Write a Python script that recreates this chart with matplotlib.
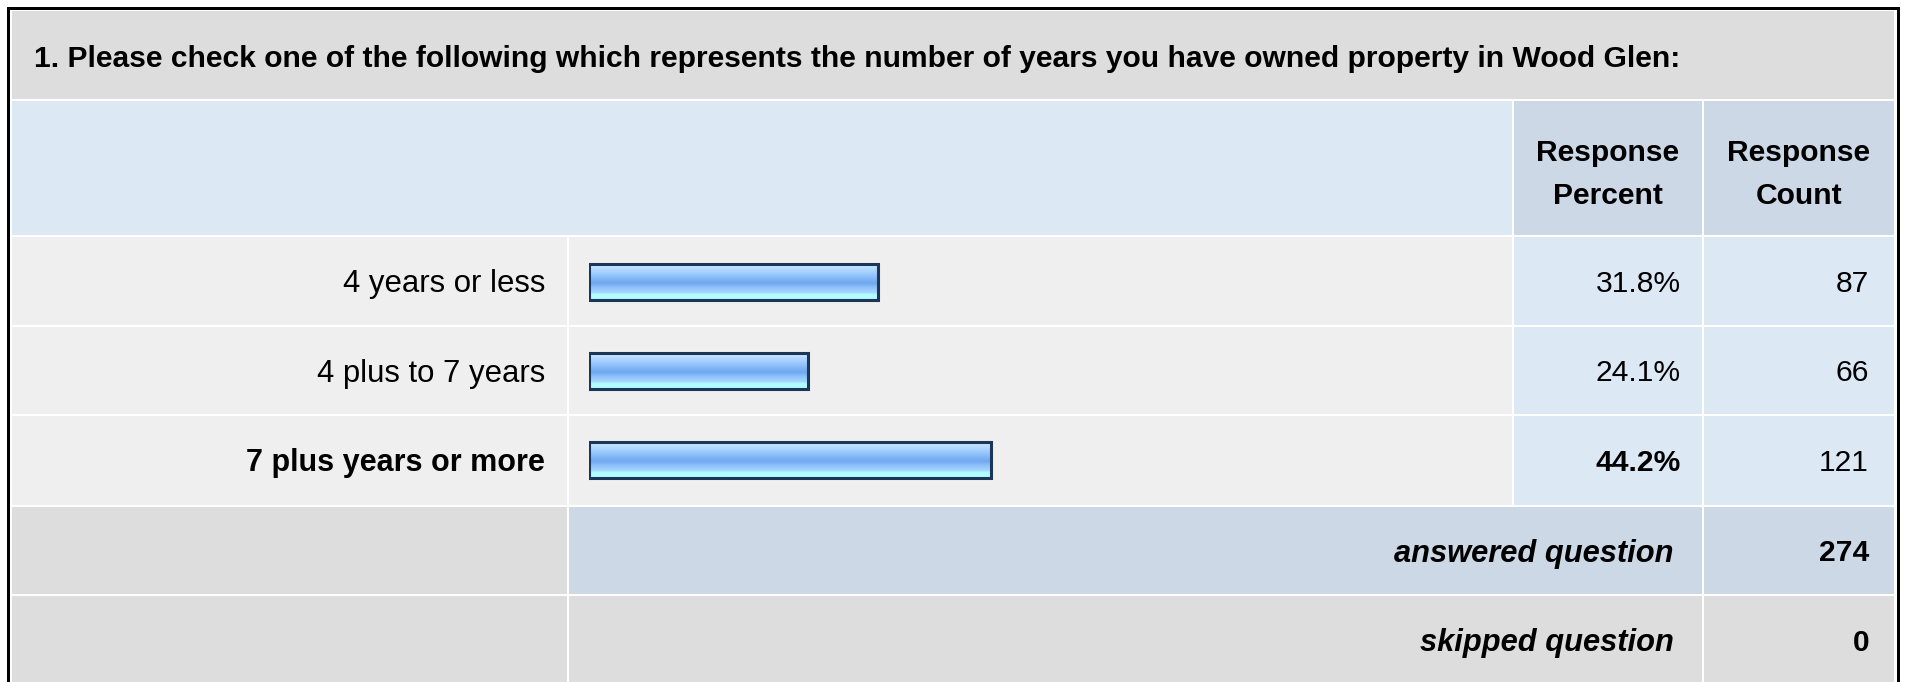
import matplotlib
matplotlib.use("Agg")
import matplotlib.pyplot as plt
import numpy as np
from matplotlib.patches import Rectangle
from matplotlib.colors import LinearSegmentedColormap

# ---------------- data ----------------
title = ("1. Please check one of the following which represents the number of "
         "years you have owned property in Wood Glen:")
categories = ["4 years or less", "4 plus to 7 years", "7 plus years or more"]
percents = [31.8, 24.1, 44.2]
counts = [87, 66, 121]
bold_rows = [False, False, True]
answered = 274
skipped = 0

# ---------------- layout (pixels) ----------------
W, H = 1909, 682
DPI = 100
FS = 21.6
FS_LAB = 22.4
plt.rcParams['font.family'] = ['Liberation Sans', 'DejaVu Sans']

fig = plt.figure(figsize=(W / DPI, H / DPI), dpi=DPI)
fig.patch.set_facecolor('white')
ax = fig.add_axes([0, 0, 1, 1])
ax.set_xlim(0, W)
ax.set_ylim(H, 0)
ax.axis('off')

GREY = '#dddddd'
DATA = '#efefef'
LBLUE = '#dde8f5'
HBLUE = '#ccd8e6'


def cell(x0, x1, y0, y1, color):
    ax.add_patch(Rectangle((x0, y0), x1 - x0, y1 - y0, facecolor=color,
                           edgecolor='none', zorder=1))


# column edges
c_lab = (12, 567)
c_bar = (569, 1512)
c_pct = (1514, 1702)
c_cnt = (1704, 1894)
# row edges
r_title = (11, 99)
r_head = (101, 235)
r_data = [(237, 325), (327, 414), (416, 505)]
r_ans = (507, 594)
r_skip = (596, 682)

# outer black frame
ax.add_patch(Rectangle((7, 7), 1899.5 - 7, 2.6, facecolor='black', edgecolor='none', zorder=3))
ax.add_patch(Rectangle((7, 7), 2.6, H, facecolor='black', edgecolor='none', zorder=3))
ax.add_patch(Rectangle((1896.9, 7), 2.6, H, facecolor='black', edgecolor='none', zorder=3))

# title row
cell(c_lab[0], c_cnt[1], *r_title, GREY)
# header row
cell(c_lab[0], c_bar[1], *r_head, LBLUE)
cell(*c_pct, *r_head, HBLUE)
cell(*c_cnt, *r_head, HBLUE)
# data rows
for (y0, y1) in r_data:
    cell(*c_lab, y0, y1, DATA)
    cell(*c_bar, y0, y1, DATA)
    cell(*c_pct, y0, y1, LBLUE)
    cell(*c_cnt, y0, y1, LBLUE)
# answered row
cell(*c_lab, *r_ans, GREY)
cell(c_bar[0], c_pct[1], *r_ans, HBLUE)
cell(*c_cnt, *r_ans, HBLUE)
# skipped row
cell(*c_lab, *r_skip, GREY)
cell(c_bar[0], c_pct[1], *r_skip, GREY)
cell(*c_cnt, *r_skip, GREY)

TXT = '#000000'


def put(x, yc, s, ha='right', weight='normal', style='normal', size=FS):
    ax.text(x, yc + 0.36 * size * DPI / 72.0, s, ha=ha, va='baseline',
            fontsize=size, fontweight=weight, fontstyle=style, color=TXT, zorder=5)


# title
put(34, 56, title, ha='left', weight='bold', size=FS)
# header
xp = (c_pct[0] + c_pct[1]) / 2
xc = (c_cnt[0] + c_cnt[1]) / 2
put(xp, 150, "Response", ha='center', weight='bold')
put(xp, 193, "Percent", ha='center', weight='bold')
put(xc, 150, "Response", ha='center', weight='bold')
put(xc, 193, "Count", ha='center', weight='bold')

# data rows
for i, (cat, p, n, b) in enumerate(zip(categories, percents, counts, bold_rows)):
    yc = (r_data[i][0] + r_data[i][1]) / 2
    w = 'bold' if b else 'normal'
    put(545, yc, cat, weight=w, size=FS_LAB if not b else 22.0)
    put(1681, yc, f"{p:.1f}%", weight=w)
    put(1869, yc, f"{n}")

ya = (r_ans[0] + r_ans[1]) / 2
ys = (r_skip[0] + r_skip[1]) / 2 + 1
put(1674, ya, "answered question", weight='bold', style='italic', size=22.2)
put(1869, ya, f"{answered}", weight='bold')
put(1674, ys, "skipped question", weight='bold', style='italic', size=22.2)
put(1869, ys, f"{skipped}", weight='bold')

# ---------------- bars ----------------
bx0, bx1 = 589, 1499          # 0 .. 100 %
by0, by1 = r_data[0][0], r_data[-1][1]
bax = fig.add_axes([bx0 / W, 1 - by1 / H, (bx1 - bx0) / W, (by1 - by0) / H])
bax.set_xlim(0, 100)
bax.set_ylim(len(categories) - 0.5, -0.5)
bax.axis('off')
bax.patch.set_alpha(0)

grad = LinearSegmentedColormap.from_list('g', [
    (0.00, '#d6ecff'), (0.10, '#bfe0ff'), (0.28, '#9dcbff'),
    (0.44, '#7fb4f5'), (0.55, '#70a7ef'), (0.66, '#8ec1fb'),
    (0.80, '#a4d6ff'), (0.86, '#b2fdff'), (1.00, '#b2fdff')])
gimg = np.linspace(0, 1, 64).reshape(-1, 1)

BH = 0.405
bars = bax.barh(range(len(categories)), percents, height=BH, left=0,
                color='none', edgecolor='none')
for i, (bar, p) in enumerate(zip(bars, percents)):
    im = bax.imshow(gimg, cmap=grad, aspect='auto', interpolation='bilinear',
                    extent=[0, p, i + BH / 2, i - BH / 2], zorder=2)
    im.set_clip_path(bar)
    bax.add_patch(Rectangle((0, i - BH / 2), p, BH, facecolor='none',
                            edgecolor='#1c365a', linewidth=2.2, zorder=3))
bax.set_xlim(0, 100)
bax.set_ylim(len(categories) - 0.5, -0.5)

fig.savefig('out.png', dpi=DPI, facecolor='white')
